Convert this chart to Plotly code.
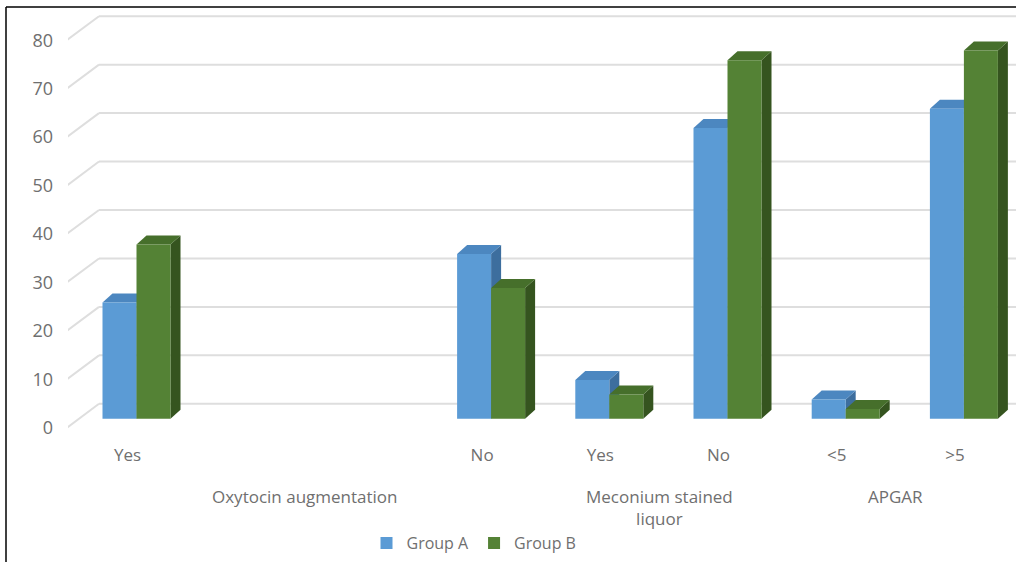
import plotly.graph_objects as go

# ---- data ----
categories = ["Yes", "", "", "No", "Yes", "No", "<5", ">5"]
group_a = [24, None, None, 34, 8, 60, 4, 64]
group_b = [36, None, None, 27, 5, 74, 2, 76]
y_ticks = [0, 10, 20, 30, 40, 50, 60, 70, 80]
groups = [("Oxytocin augmentation", 0, 3), ("Meconium stained<br>liquor", 4, 5), ("APGAR", 6, 7)]

# ---- geometry / style ----
W, H = 1016, 562
ML, MR, MT, MB = 68, 0, 7, 119
PW, PH = W - ML - MR, H - MT - MB
px_per_cat = 118.2
x0 = -(136.5 - ML) / px_per_cat
x1 = x0 + PW / px_per_cat
y0, y1 = -5, 85
px_per_unit = PH / (y1 - y0)

bar_w = 34 / px_per_cat          # bar width in category units
dx = 10 / px_per_cat             # 3D depth, x
dy = 9 / px_per_unit             # 3D depth, y
grid_back_dy = 15 / px_per_unit
grid_front_dy = -9 / px_per_unit
grid_front_x = x0 - 0.01
grid_back_x = x0 + 31 / px_per_cat
label_shift = -9 / px_per_cat

TXT = "#6f6f6f"
FONT = "Open Sans"
blue, blue_top, blue_side = "#5B9BD5", "#4C87C0", "#3D6E9E"
green, green_top, green_side = "#548235", "#466F2B", "#35541F"

xs = list(range(len(categories)))
shapes = []

# gridlines (back wall + slanted floor edge)
for v in y_ticks:
    shapes.append(dict(type="line", xref="x", yref="y", x0=grid_back_x, x1=x1,
                       y0=v + grid_back_dy, y1=v + grid_back_dy,
                       line=dict(color="#dedede", width=2), layer="below"))
    shapes.append(dict(type="line", xref="x", yref="y", x0=grid_front_x, x1=grid_back_x,
                       y0=v + grid_front_dy, y1=v + grid_back_dy,
                       line=dict(color="#dedede", width=2), layer="below"))


def faces(vals, off, top_c, side_c):
    out = []
    for x, v in zip(xs, vals):
        if v is None:
            continue
        xl = x + off
        xr = xl + bar_w
        side = f"M{xr},0 L{xr+dx},{dy} L{xr+dx},{v+dy} L{xr},{v} Z"
        top = f"M{xl},{v} L{xl+dx},{v+dy} L{xr+dx},{v+dy} L{xr},{v} Z"
        out.append(dict(type="path", xref="x", yref="y", path=side,
                        fillcolor=side_c, line=dict(width=0), layer="below"))
        out.append(dict(type="path", xref="x", yref="y", path=top,
                        fillcolor=top_c, line=dict(width=0), layer="below"))
    return out


shapes += faces(group_a, -bar_w, blue_top, blue_side)
shapes += faces(group_b, 0, green_top, green_side)

# frame lines (left and top)
fx = (6 - ML) / PW
shapes.append(dict(type="line", xref="paper", yref="paper", x0=fx, x1=fx,
                   y0=(H - MB - 7) / PH, y1=(H - MB - H) / PH,
                   line=dict(color="black", width=1.5)))
shapes.append(dict(type="line", xref="paper", yref="paper", x0=fx, x1=1.0,
                   y0=(H - MB - 7) / PH, y1=(H - MB - 7) / PH,
                   line=dict(color="black", width=1.5)))

fig = go.Figure()
fig.add_trace(go.Bar(x=xs, y=group_a, name="Group A", marker_color=blue,
                     marker_line_width=0, width=bar_w, offset=-bar_w))
fig.add_trace(go.Bar(x=xs, y=group_b, name="Group B", marker_color=green,
                     marker_line_width=0, width=bar_w, offset=0))

annotations = []
for text, a, b in groups:
    annotations.append(dict(x=(a + b) / 2 + label_shift, y=(H - MB - 483) / PH,
                            xref="x", yref="paper", text=text, showarrow=False,
                            yanchor="top", xanchor="center", align="center",
                            font=dict(family=FONT, size=17, color=TXT)))

fig.update_layout(
    width=W, height=H,
    margin=dict(l=ML, r=MR, t=MT, b=MB),
    paper_bgcolor="white", plot_bgcolor="white",
    barmode="overlay",
    shapes=shapes,
    annotations=annotations,
    showlegend=True,
    legend=dict(orientation="h", x=(474 - ML) / PW, xanchor="center",
                y=(H - MB - 543) / PH, yanchor="middle", itemwidth=30,
                font=dict(family=FONT, size=16, color=TXT), traceorder="normal"),
    xaxis=dict(range=[x0, x1], tickvals=[x + label_shift for x in xs], ticktext=categories,
               showgrid=False, zeroline=False, showline=False, ticks="",
               tickfont=dict(family=FONT, size=17, color=TXT), ticklabelstandoff=0),
    yaxis=dict(range=[y0, y1], tickvals=[v + grid_front_dy for v in y_ticks],
               ticktext=[str(v) for v in y_ticks],
               showgrid=False, zeroline=False, showline=False, ticks="",
               tickfont=dict(family=FONT, size=18, color=TXT), ticklabelstandoff=14),
)

fig.write_html("out.html")
